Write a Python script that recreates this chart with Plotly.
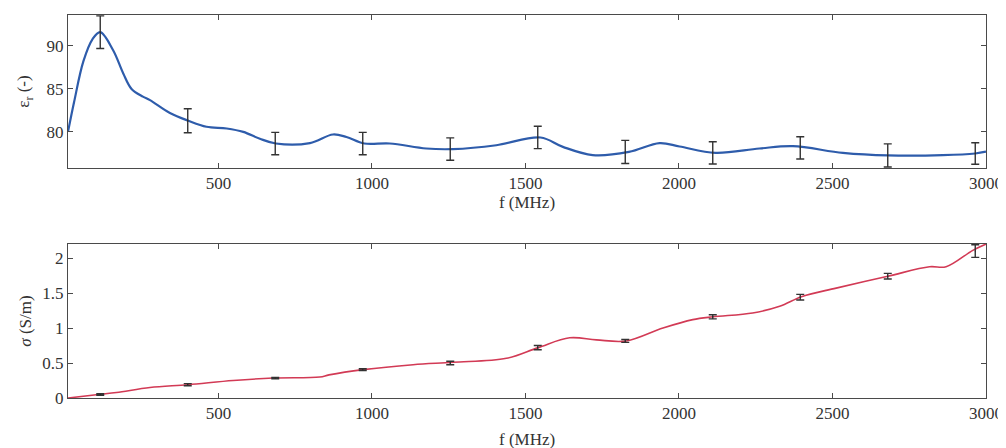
import plotly.graph_objects as go
from plotly.subplots import make_subplots

# Top panel: relative permittivity curve
f_eps = [10, 30, 60, 90, 115, 157, 190, 217, 254, 277, 342, 402, 461, 527, 581, 635, 687, 798, 873,
         917, 975, 1058, 1177, 1264, 1405, 1549, 1622, 1719, 1837, 1937, 2002, 2119, 2262, 2371,
         2534, 2681, 2859, 2965, 3000]
eps = [80.0, 83.5, 88.2, 90.8, 91.6, 89.5, 86.8, 85.0, 84.1, 83.7, 82.2, 81.3, 80.6, 80.4, 80.0, 79.2,
       78.65, 78.7, 79.7, 79.4, 78.65, 78.65, 78.07, 78.0, 78.45, 79.35, 78.26, 77.3, 77.67, 78.7,
       78.3, 77.56, 78.07, 78.34, 77.56, 77.26, 77.29, 77.49, 77.7]

# Error bar points (shared frequencies)
f_err = [115, 400, 685, 970, 1255, 1540, 1825, 2110, 2395, 2680, 2965]
eps_err_c = [91.6, 81.3, 78.65, 78.65, 78.0, 79.35, 77.67, 77.56, 78.14, 77.26, 77.49]
eps_err = [1.9, 1.4, 1.3, 1.3, 1.3, 1.3, 1.35, 1.3, 1.3, 1.35, 1.25]

# Bottom panel: conductivity curve
f_sig = [10, 109, 168, 277, 400, 548, 678, 830, 860, 971, 1134, 1264, 1438, 1541, 1644, 1731, 1829,
         1948, 2045, 2110, 2240, 2328, 2401, 2512, 2680, 2816, 2870, 2957, 3000]
sig = [0.0, 0.05, 0.078, 0.15, 0.19, 0.25, 0.285, 0.30, 0.33, 0.405, 0.476, 0.51, 0.567, 0.72, 0.86,
       0.83, 0.815, 1.0, 1.12, 1.16, 1.215, 1.31, 1.45, 1.57, 1.74, 1.875, 1.875, 2.11, 2.2]
sig_err_c = [0.05, 0.19, 0.285, 0.405, 0.50, 0.72, 0.815, 1.16, 1.44, 1.74, 2.1]
sig_err = [0.01, 0.015, 0.01, 0.012, 0.025, 0.03, 0.02, 0.03, 0.04, 0.04, 0.09]

x_ticks = [500, 1000, 1500, 2000, 2500, 3000]

FONT = "Liberation Serif"
AX = "#4a4a4a"
TXT = "#333333"

fig = make_subplots(rows=2, cols=1, shared_xaxes=False)

fig.add_trace(go.Scatter(x=f_eps, y=eps, mode="lines", line=dict(color="#2e5cab", width=2.2, shape="spline"),
                         showlegend=False), row=1, col=1)
fig.add_trace(go.Scatter(x=f_err, y=eps_err_c, mode="markers", marker=dict(size=1, color="#222"),
                         error_y=dict(type="data", array=eps_err, color="#333", thickness=1.4, width=4),
                         showlegend=False), row=1, col=1)
fig.add_trace(go.Scatter(x=f_sig, y=sig, mode="lines", line=dict(color="#d23a55", width=1.6, shape="spline"),
                         showlegend=False), row=2, col=1)
fig.add_trace(go.Scatter(x=f_err, y=sig_err_c, mode="markers", marker=dict(size=1, color="#222"),
                         error_y=dict(type="data", array=sig_err, color="#333", thickness=1.4, width=4),
                         showlegend=False), row=2, col=1)

common_ax = dict(showline=True, linecolor=AX, linewidth=1, mirror="ticks", ticks="inside", ticklen=5,
                 tickcolor=AX, showgrid=False, zeroline=False,
                 tickfont=dict(family=FONT, size=17, color=TXT))

fig.update_xaxes(range=[10, 3000], tickvals=x_ticks, **common_ax)
fig.update_xaxes(title=dict(text="f (MHz)", standoff=0, font=dict(family=FONT, size=17, color=TXT)),
                 row=1, col=1)
fig.update_yaxes(**common_ax)
fig.update_yaxes(range=[75.8, 93.6], tickvals=[80, 85, 90], row=1, col=1,
                 title=dict(text="ε<sub>r</sub> (-)", standoff=12, font=dict(family=FONT, size=17, color=TXT)))
fig.update_yaxes(range=[0, 2.2], tickvals=[0, 0.5, 1, 1.5, 2], row=2, col=1,
                 title=dict(text="<i>σ</i> (S/m)", standoff=6, font=dict(family=FONT, size=17, color=TXT)))

fig.add_annotation(text="f (MHz)", xref="x2 domain", yref="y2 domain", x=0.5, y=0, yshift=-41,
                   xanchor="center", yanchor="middle", showarrow=False,
                   font=dict(family=FONT, size=17, color=TXT))

fig.update_layout(width=1006, height=448, margin=dict(l=60, r=28, t=7, b=58),
                  paper_bgcolor="white", plot_bgcolor="white",
                  yaxis=dict(domain=[0.6005, 1.0]), yaxis2=dict(domain=[0.0, 0.402]))

fig.write_html("out.html")
